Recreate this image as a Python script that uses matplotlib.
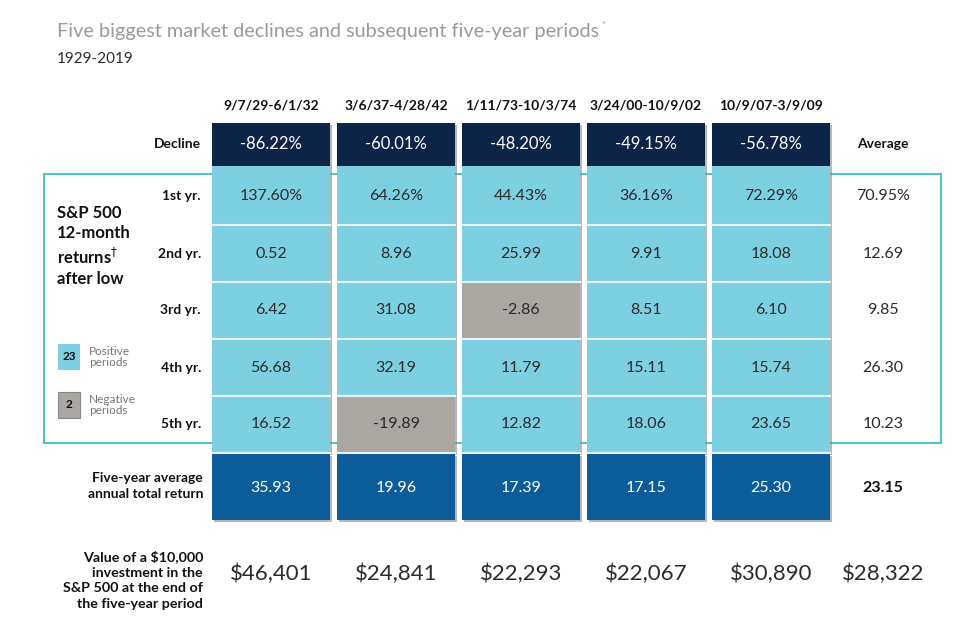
import matplotlib.pyplot as plt
from matplotlib.patches import Rectangle

plt.rcParams['font.family'] = ['Lato', 'DejaVu Sans']

# data
periods = ['9/7/29-6/1/32', '3/6/37-4/28/42', '1/11/73-10/3/74', '3/24/00-10/9/02', '10/9/07-3/9/09']
declines = [-86.22, -60.01, -48.20, -49.15, -56.78]
year_labels = ['1st yr.', '2nd yr.', '3rd yr.', '4th yr.', '5th yr.']
yr1 = [137.60, 64.26, 44.43, 36.16, 72.29]
yr2 = [0.52, 8.96, 25.99, 9.91, 18.08]
yr3 = [6.42, 31.08, -2.86, 8.51, 6.10]
yr4 = [56.68, 32.19, 11.79, 15.11, 15.74]
yr5 = [16.52, -19.89, 12.82, 18.06, 23.65]
year_avgs = [70.95, 12.69, 9.85, 26.30, 10.23]
five_year_avg = [35.93, 19.96, 17.39, 17.15, 25.30]
five_year_avg_mean = 23.15
end_values = [46401, 24841, 22293, 22067, 30890]
end_value_mean = 28322
n_positive = 23
n_negative = 2

NAVY = '#0c2447'
CYAN = '#7dd0e1'
GRAY = '#aaa7a3'
BLUE = '#0d5c9a'
TEAL = '#52c3c2'
TXT = '#2b2b2b'

fig = plt.figure(figsize=(9.77, 6.35), dpi=100)
ax = fig.add_axes([0, 0, 1, 1])
ax.set_xlim(0, 977)
ax.set_ylim(635, 0)
ax.axis('off')

col_x = [212, 337, 462, 587, 712]
col_w = 118
avg_x = 883
row_top = [168, 225, 282, 339, 396]
row_h = 55


def box(x, y, w, h, color, shadow=True):
    if shadow:
        ax.add_patch(Rectangle((x + 2, y + 2), w, h, color='#8a8a8a', alpha=0.6, lw=0, zorder=1))
    ax.add_patch(Rectangle((x, y), w, h, color=color, lw=0, zorder=2))


# title
title = ax.text(57, 32, 'Five biggest market declines and subsequent five-year periods', fontsize=14.3,
                color='#9a9a9a', va='center', ha='left')
fig.canvas.draw()
bb = title.get_window_extent().transformed(ax.transData.inverted())
ax.text(bb.x1 + 2, 26, '*', fontsize=7, color='#9a9a9a', va='center', ha='left')
ax.text(57, 59, '1929-2019', fontsize=11, color=TXT, va='center')

# teal frame
ax.add_patch(Rectangle((44, 174), 897, 269, fill=False, ec=TEAL, lw=1.5, zorder=0.5))

# column headers and decline row
for i, p in enumerate(periods):
    cx = col_x[i] + col_w / 2
    ax.text(cx, 105, p, fontsize=10, fontweight='bold', ha='center', va='center', color='#111')
    box(col_x[i], 123, col_w, 43, NAVY)
    ax.text(cx, 144, f'{declines[i]:.2f}%', fontsize=12, color='white', ha='center', va='center', zorder=3)
    # column of yearly returns
    box(col_x[i], 166, col_w, 287, CYAN)
ax.text(201, 144, 'Decline', fontsize=10, fontweight='bold', ha='right', va='center', color='#111')
ax.text(avg_x, 144, 'Average', fontsize=10, fontweight='bold', ha='center', va='center', color='#111')

rows = [yr1, yr2, yr3, yr4, yr5]
for r, vals in enumerate(rows):
    y0 = row_top[r]
    yc = y0 + row_h / 2 + 1
    ax.text(201, yc, year_labels[r], fontsize=10, fontweight='bold', ha='right', va='center', color='#111')
    for i, v in enumerate(vals):
        if v < 0:
            ax.add_patch(Rectangle((col_x[i], y0 + 1), col_w, row_h, color=GRAY, lw=0, zorder=2.5))
        label = f'{v:.2f}%' if r == 0 else f'{v:.2f}'
        ax.text(col_x[i] + col_w / 2, yc, label, fontsize=11.5, color=TXT, ha='center', va='center', zorder=3)
        if r > 0:
            ax.plot([col_x[i], col_x[i] + col_w], [y0, y0], color='#e8f6fa', lw=1.5, zorder=2.6)
    avg_label = f'{year_avgs[r]:.2f}%' if r == 0 else f'{year_avgs[r]:.2f}'
    ax.text(avg_x, yc, avg_label, fontsize=11.5, color=TXT, ha='center', va='center')

# five-year average row
for i, v in enumerate(five_year_avg):
    box(col_x[i], 454, col_w, 66, BLUE)
    ax.plot([col_x[i], col_x[i] + col_w], [453, 453], color='#e8f6fa', lw=1.5, zorder=2.6)
    ax.text(col_x[i] + col_w / 2, 488, f'{v:.2f}', fontsize=11.5, color='white', ha='center', va='center', zorder=3)
ax.text(avg_x, 488, f'{five_year_avg_mean:.2f}', fontsize=11.5, fontweight='bold', color='#111',
        ha='center', va='center')
ax.text(203, 486, 'Five-year average\nannual total return', fontsize=10, fontweight='bold',
        ha='right', va='center', color='#111', linespacing=1.35)

# end values
for i, v in enumerate(end_values):
    ax.text(col_x[i] + col_w / 2, 574, f'${v:,}', fontsize=16, color=TXT, ha='center', va='center')
ax.text(avg_x, 574, f'${end_value_mean:,}', fontsize=16, color=TXT, ha='center', va='center')
ax.text(203, 580, 'Value of a $10,000\ninvestment in the\nS&P 500 at the end of\nthe five-year period',
        fontsize=10.3, fontweight='bold', ha='right', va='center', color='#111', linespacing=1.35)

# left block
ax.text(57, 246, 'S&P 500\n12-month\nreturns$^{\\dagger}$\nafter low', fontsize=12, fontweight='bold',
        ha='left', va='center', color='#111', linespacing=1.3)
ax.add_patch(Rectangle((58, 344), 22, 26, color=CYAN, lw=0))
ax.text(69, 357, str(n_positive), fontsize=8.5, fontweight='bold', ha='center', va='center', color='#111')
ax.text(89, 357, 'Positive\nperiods', fontsize=8.5, color='#777', ha='left', va='center', linespacing=1.1)
ax.add_patch(Rectangle((58, 392), 22, 26, color=GRAY, ec='#888', lw=0.8))
ax.text(69, 405, str(n_negative), fontsize=8.5, fontweight='bold', ha='center', va='center', color='#111')
ax.text(89, 405, 'Negative\nperiods', fontsize=8.5, color='#777', ha='left', va='center', linespacing=1.1)

fig.savefig('out.png', dpi=100, facecolor='white')
